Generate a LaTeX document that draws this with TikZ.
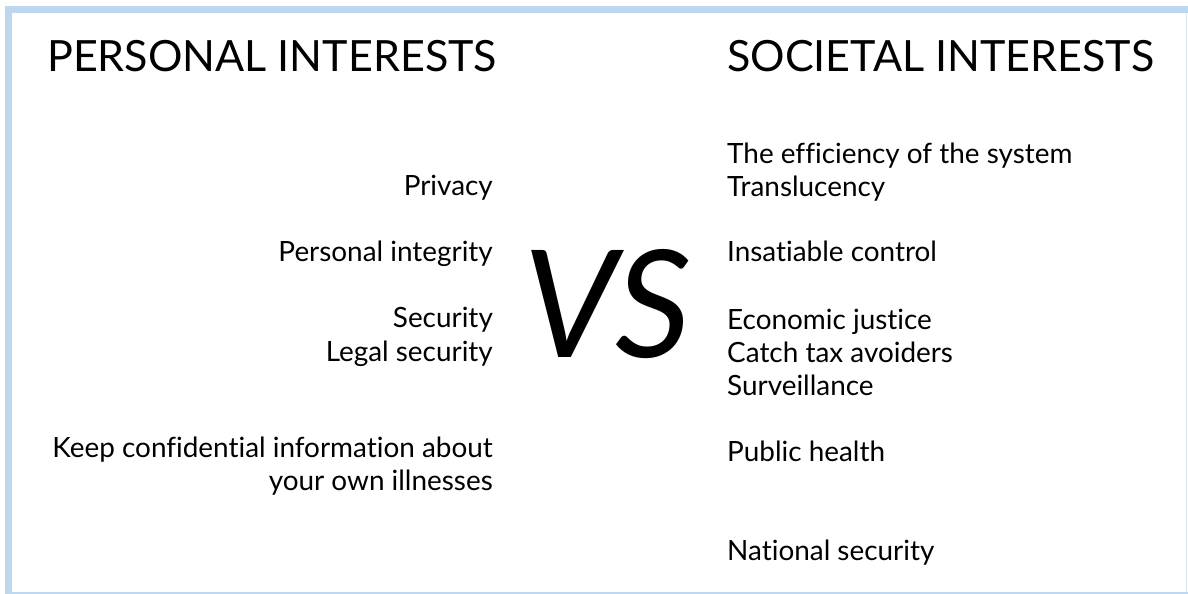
\documentclass[tikz,border=0pt]{standalone}
\usepackage{fontspec}
\setmainfont{Lato}[Ligatures=NoCommon]
\definecolor{frameblue}{HTML}{BDD7EE}
\begin{document}
\begin{tikzpicture}[x=1bp,y=-1bp,
  head/.style={inner sep=0pt, anchor=base west, font=\fontsize{43.2}{50}\selectfont},
  lefttxt/.style={inner sep=0pt, anchor=base east, font=\fontsize{28}{33}\selectfont},
  righttxt/.style={inner sep=0pt, anchor=base west, font=\fontsize{28}{33}\selectfont},
  versus/.style={inner sep=0pt, anchor=base west, font=\fontsize{150}{160}\itshape\selectfont}]
\useasboundingbox (0,0) rectangle (1188,594);
% frame: heavy top and left edges, hairline right and bottom
\fill[frameblue] (5,6) rectangle (1188,13);
\fill[frameblue] (5,6) rectangle (12,594);
\fill[frameblue] (5,591.5) rectangle (1188,593.5);
\fill[frameblue!60] (1185.5,13) rectangle (1186.5,592);
% headings
\node[head] (pers) at (47,72) {PERSONAL INTERESTS};
\node[head] (soc) at (727,72) {SOCIETAL INTERESTS};
% personal interests
\node[lefttxt] (privacy) at (493,196) {Privacy};
\node[lefttxt] (integrity) at (493,262) {Personal integrity};
\node[lefttxt] (security) at (493,328) {Security};
\node[lefttxt] (legal) at (493,361) {Legal security};
\node[lefttxt] (keep) at (493,457) {Keep confidential information about};
\node[lefttxt] (illness) at (493,490) {your own illnesses};
% societal interests
\node[righttxt] (efficiency) at (727,164) {The efficiency of the system};
\node[righttxt] (transl) at (727,197) {Translucency};
\node[righttxt] (control) at (727,262) {Insatiable control};
\node[righttxt] (justice) at (727,330) {Economic justice};
\node[righttxt] (tax) at (727,362) {Catch tax avoiders};
\node[righttxt] (surv) at (727,395) {Surveillance};
\node[righttxt] (health) at (727,461) {Public health};
\node[righttxt] (national) at (727,560) {National security};
% the big VS in the middle
\node[versus] (vs) at (523,357) {VS};
\end{tikzpicture}
\end{document}
